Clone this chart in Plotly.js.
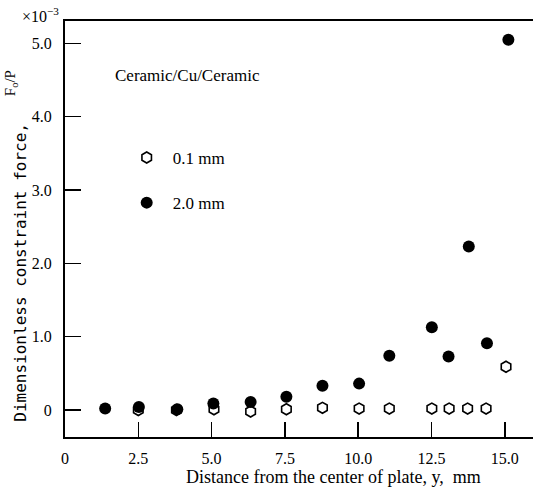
<!DOCTYPE html>
<html>
<head>
<meta charset="utf-8">
<script src="https://cdn.plot.ly/plotly-3.0.1.min.js"></script>
<style>html,body{margin:0;padding:0;background:#fff;}#chart{width:533px;height:488px;}</style>
</head>
<body>
<div id="chart"></div>
<script>
// Data (y in units of 1e-3)
var thinX = [2.5, 3.8, 5.08, 6.33, 7.55, 8.78, 10.03, 11.06, 12.51, 13.1, 13.73, 14.36, 15.04];
var thinY = [0.0, 0.0, 0.01, -0.02, 0.01, 0.03, 0.02, 0.02, 0.02, 0.02, 0.02, 0.02, 0.59];
var thickX = [1.37, 2.52, 3.83, 5.06, 6.33, 7.55, 8.78, 10.03, 11.06, 12.51, 13.08, 13.77, 14.39, 15.12];
var thickY = [0.02, 0.04, 0.01, 0.09, 0.11, 0.18, 0.33, 0.36, 0.74, 1.13, 0.73, 2.23, 0.91, 5.05];
var seriesNames = ['0.1 mm', '2.0 mm'];
var xTickVals = [0, 2.5, 5, 7.5, 10, 12.5, 15];
var xTickText = ['0', '2.5', '5.0', '7.5', '10.0', '12.5', '15.0'];
var yTickVals = [0, 1, 2, 3, 4, 5];
var yTickText = ['0', '1.0', '2.0', '3.0', '4.0', '5.0'];

var serif = 'Liberation Serif, Times New Roman, serif';

var traces = [
  {
    x: thinX, y: thinY, type: 'scatter', mode: 'markers', name: seriesNames[0],
    legendgroup: 'a',
    marker: {symbol: 'hexagon-open', size: 11, color: '#000', line: {width: 1.6, color: '#000'}}
  },
  {
    x: thickX, y: thickY, type: 'scatter', mode: 'markers', name: seriesNames[1],
    legendgroup: 'b',
    marker: {symbol: 'circle', size: 12, color: '#000'}
  }
];

var layout = {
  width: 533, height: 488,
  margin: {l: 65, r: 0, t: 21, b: 51, pad: 0},
  paper_bgcolor: '#fff', plot_bgcolor: '#fff',
  font: {family: serif, size: 16, color: '#000'},
  showlegend: true,
  legend: {
    x: 0.119, y: 0.714, xanchor: 'left', yanchor: 'top',
    bgcolor: 'rgba(0,0,0,0)', borderwidth: 0,
    font: {family: serif, size: 17, color: '#000'},
    traceorder: 'grouped', tracegroupgap: 20, itemwidth: 42
  },
  xaxis: {
    range: [0, 15.96], tickvals: xTickVals, ticktext: xTickText,
    ticks: 'inside', ticklen: 15, tickwidth: 1.5, tickcolor: '#000',
    showline: true, linewidth: 2, linecolor: '#000', mirror: true,
    showgrid: false, zeroline: false,
    tickfont: {family: serif, size: 16}, ticklabelstandoff: 6
  },
  yaxis: {
    range: [-0.368, 5.305], tickvals: yTickVals, ticktext: yTickText,
    ticks: 'inside', ticklen: 16, tickwidth: 1.5, tickcolor: '#000',
    showline: true, linewidth: 2, linecolor: '#000', mirror: false,
    showgrid: false, zeroline: false,
    tickfont: {family: serif, size: 16}, ticklabelstandoff: 8
  },
  annotations: [
    {text: 'Ceramic/Cu/Ceramic', xref: 'paper', yref: 'paper', x: 0.102, y: 0.868,
     xanchor: 'left', yanchor: 'middle', showarrow: false, font: {family: serif, size: 17}},
    {text: '×10<sup>−3</sup>', xref: 'paper', yref: 'paper', x: -0.096, y: 1.014,
     xanchor: 'left', yanchor: 'middle', showarrow: false, font: {family: serif, size: 16}},
    {text: 'Dimensionless constraint force,', xref: 'paper', yref: 'paper', x: -0.094, y: 0.395,
     xanchor: 'center', yanchor: 'middle', textangle: -90, showarrow: false,
     font: {family: 'DejaVu Sans Mono, monospace', size: 16}},
    {text: 'F<sub>o</sub>/P', xref: 'paper', yref: 'paper', x: -0.115, y: 0.851,
     xanchor: 'center', yanchor: 'middle', textangle: -90, showarrow: false,
     font: {family: serif, size: 15}},
    {text: 'Distance from the center of plate, y,  mm', xref: 'paper', yref: 'paper', x: 0.573, y: -0.096,
     xanchor: 'center', yanchor: 'middle', showarrow: false, font: {family: serif, size: 18}}
  ]
};

Plotly.newPlot('chart', traces, layout, {displayModeBar: false, staticPlot: true});
</script>
</body>
</html>
